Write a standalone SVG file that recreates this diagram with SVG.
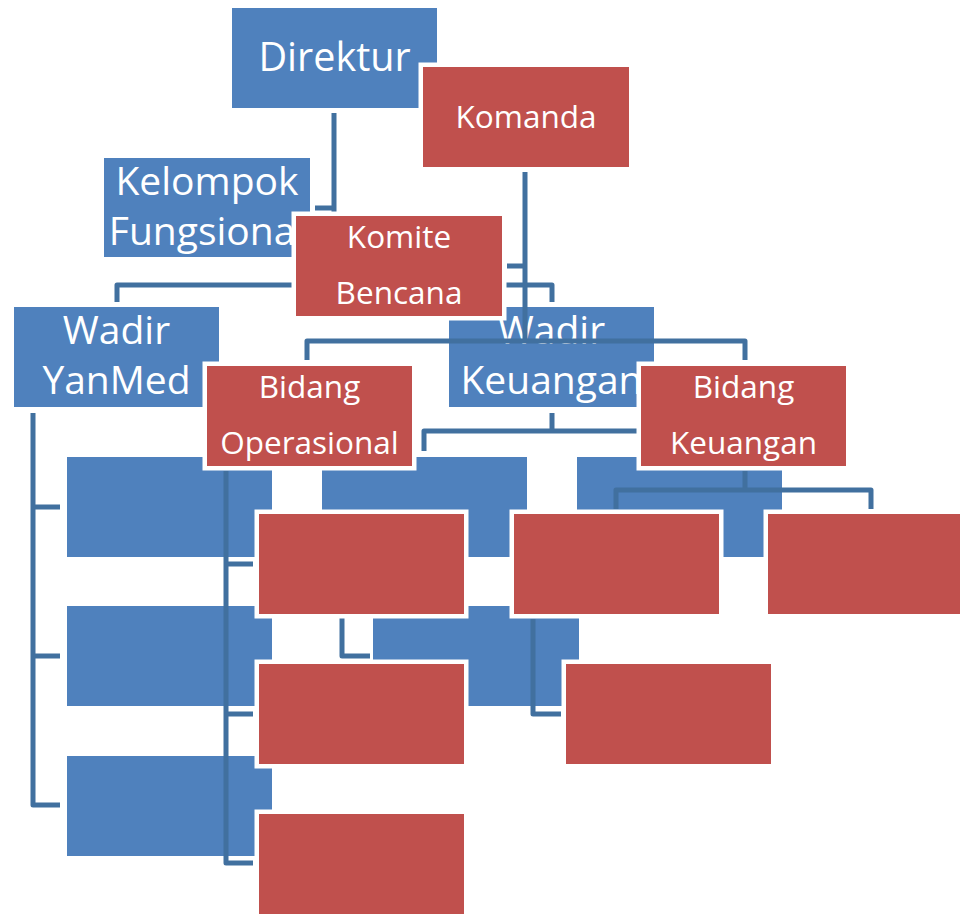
<svg xmlns="http://www.w3.org/2000/svg" width="960" height="914" viewBox="0 0 960 914">
<style>
.c{fill:none;stroke:#41709F;stroke-width:5;stroke-linejoin:round;stroke-linecap:butt}
.b{fill:#4F81BD;stroke:#ffffff;stroke-width:2;paint-order:stroke}
.r{fill:#C0504D;stroke:#ffffff;stroke-width:9;paint-order:stroke}
text{font-family:"Open Sans","Noto Sans","Liberation Sans",sans-serif;fill:#ffffff;text-anchor:middle}
.l{font-size:39px}
.m{font-size:31.5px}
</style>
<rect width="960" height="914" fill="#ffffff"/>
<g id="blue-connectors">
<path class="c" d="M334,113 V285 M315,208 H334"/>
<path class="c" d="M117,302 V285 H552 V302"/>
<path class="c" d="M33,413 V805 H60 M33,507 H60 M33,656 H60"/>
<path class="c" d="M552,413 V431 M424,451 V431 H680 V451"/>
<path class="c" d="M342,562 V656 H370"/>
</g>
<g id="direktur"><rect class="b" x="232" y="8" width="205" height="100"/><text x="334.5" y="71" style="font-size:39.5px">Direktur</text></g>
<g id="kelompok-fungsional"><rect class="b" x="104" y="158" width="206" height="99"/><text class="l" x="207" y="195">Kelompok</text><text class="l" x="207" y="245">Fungsional</text></g>
<g id="wadir-yanmed"><rect class="b" x="14" y="307" width="205" height="100"/><text class="l" x="116.5" y="344">Wadir</text><text class="l" x="116.5" y="394">YanMed</text></g>
<g id="wadir-keuangan"><rect class="b" x="449" y="307" width="205" height="100"/><text class="l" x="551.5" y="344">Wadir</text><text class="l" x="551.5" y="394">Keuangan</text></g>
<g id="blue-1"><rect class="b" x="67" y="457" width="205" height="100"/></g>
<g id="blue-2"><rect class="b" x="67" y="606" width="205" height="100"/></g>
<g id="blue-3"><rect class="b" x="67" y="756" width="205" height="100"/></g>
<g id="blue-4"><rect class="b" x="322" y="457" width="205" height="100"/></g>
<g id="blue-5"><rect class="b" x="577" y="457" width="205" height="100"/></g>
<g id="blue-6"><rect class="b" x="373" y="606" width="206" height="100"/></g>
<g id="red-connectors">
<path class="c" d="M525,172 V341 M507,266 H525"/>
<path class="c" d="M307,360 V341 H745 V360"/>
<path class="c" d="M226,471 V863 H253 M226,564 H253 M226,714 H253"/>
<path class="c" d="M745,471 V490 M616,509 V490 H871 V509"/>
<path class="c" d="M533,619 V714 H561"/>
</g>
<g id="komanda"><rect class="r" x="423" y="67" width="206" height="100"/><text class="m" x="526" y="128">Komanda</text></g>
<g id="komite-bencana"><rect class="r" x="296" y="216" width="206" height="100"/><text class="m" x="399" y="248">Komite</text><text class="m" x="399" y="304">Bencana</text></g>
<g id="bidang-operasional"><rect class="r" x="207" y="366" width="205" height="100"/><text class="m" x="309.5" y="398">Bidang</text><text class="m" x="309.5" y="454">Operasional</text></g>
<g id="bidang-keuangan"><rect class="r" x="641" y="366" width="205" height="100"/><text class="m" x="743.5" y="398">Bidang</text><text class="m" x="743.5" y="454">Keuangan</text></g>
<g id="red-1"><rect class="r" x="259" y="514" width="205" height="100"/></g>
<g id="red-2"><rect class="r" x="259" y="664" width="205" height="100"/></g>
<g id="red-3"><rect class="r" x="259" y="814" width="205" height="100"/></g>
<g id="red-4"><rect class="r" x="514" y="514" width="205" height="100"/></g>
<g id="red-5"><rect class="r" x="768" y="514" width="205" height="100"/></g>
<g id="red-6"><rect class="r" x="566" y="664" width="205" height="100"/></g>
</svg>
